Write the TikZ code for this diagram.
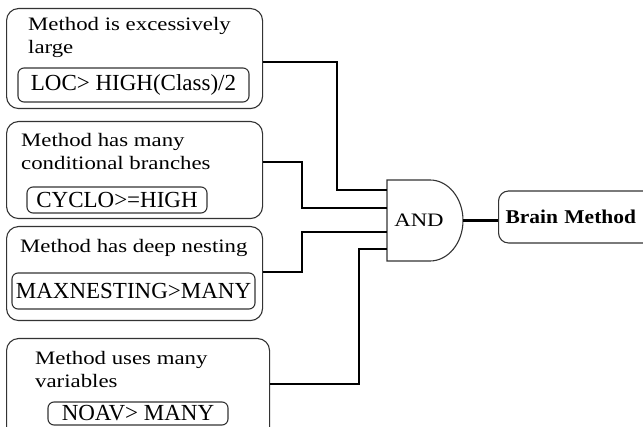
\documentclass[tikz,border=0pt]{standalone}
\usepackage{fontspec}
\setmainfont{Liberation Serif}
\newfontfamily\headfont{Liberation Serif}[FakeStretch=1.2]
\newfontfamily\resultfont{Liberation Serif}[FakeStretch=1.1]
\newcommand\headsize{\headfont\fontsize{19}{23}\selectfont}
\newcommand\resultsize{\resultfont\bfseries\fontsize{19.5}{23}\selectfont}
\newcommand\condsize{\fontsize{23}{27}\selectfont}
\begin{document}
\begin{tikzpicture}[x=1pt,y=-1pt,
  outerbox/.style={draw=black!80, line width=1.1pt, rounded corners=12pt,
    inner sep=0pt, anchor=north west},
  condbox/.style={draw=black!80, line width=1.1pt, rounded corners=6pt,
    inner sep=0pt, font=\condsize},
  headline/.style={anchor=base west, inner sep=0pt, font=\headsize},
  wire/.style={draw=black, line width=2.2pt},
  gateline/.style={draw=black!80, line width=1.1pt}]

\useasboundingbox (0,0) rectangle (643,427);
\clip (0,0) rectangle (643,427);

% ---- condition 1 ----
\node[outerbox, minimum width=256pt, minimum height=100pt] (b1) at (6,8) {};
\node[headline] (h1a) at (28,31) {Method is excessively};
\node[headline] (h1b) at (28,54) {large};
\node[condbox, minimum width=231pt, minimum height=34pt] (c1) at (133.5,85) {LOC> HIGH(Class)/2};

% ---- condition 2 ----
\node[outerbox, minimum width=256pt, minimum height=97pt] (b2) at (6,121) {};
\node[headline] (h2a) at (21,147) {Method has many};
\node[headline] (h2b) at (21,170) {conditional branches};
\node[condbox, minimum width=180pt, minimum height=26pt] (c2) at (117,200) {CYCLO>=HIGH};

% ---- condition 3 ----
\node[outerbox, minimum width=256pt, minimum height=94pt] (b3) at (6,226) {};
\node[headline] (h3a) at (20,253) {Method has deep nesting};
\node[condbox, minimum width=243pt, minimum height=36pt] (c3) at (133.5,291) {MAXNESTING>MANY};

% ---- condition 4 ----
\node[outerbox, minimum width=263pt, minimum height=110pt] (b4) at (6,338) {};
\node[headline] (h4a) at (35,365) {Method uses many};
\node[headline] (h4b) at (35,388) {variables};
\node[condbox, minimum width=180pt, minimum height=23pt] (c4) at (138,413.5) {NOAV> MANY};

% ---- AND gate ----
\draw[gateline] (387,180) -- (430,180)
  arc[start angle=90, end angle=-90, x radius=33pt, y radius=40.5pt]
  -- (387,261) -- cycle;
\node[font=\headsize, inner sep=0pt, anchor=base] (gate) at (419,227) {AND};
\coordinate (gout) at (463,220.5);

% gate inputs and bends
\coordinate (in1) at (387,190);
\coordinate (in2) at (387,208);
\coordinate (in3) at (387,232);
\coordinate (in4) at (387,249);
\coordinate (j1) at (337,190);
\coordinate (j2) at (302,208);
\coordinate (j3) at (302,232);
\coordinate (j4) at (359,249);

% ---- result ----
\node[draw=black!80, line width=1.1pt, rounded corners=10pt, anchor=west,
  minimum height=52pt, text width=160pt, inner xsep=7pt, align=left,
  font=\resultsize] (bm) at (498,217) {Brain Method};

% ---- connectors ----
\draw[wire] ([yshift=-54pt]b1.north east) -| (j1) -- (in1);
\draw[wire] ([yshift=-41pt]b2.north east) -| (j2) -- (in2);
\draw[wire] ([yshift=-46pt]b3.north east) -| (j3) -- (in3);
\draw[wire] ([yshift=-46pt]b4.north east) -| (j4) -- (in4);
\draw[wire] (gout) -- (gout -| bm.west);
\end{tikzpicture}
\end{document}
